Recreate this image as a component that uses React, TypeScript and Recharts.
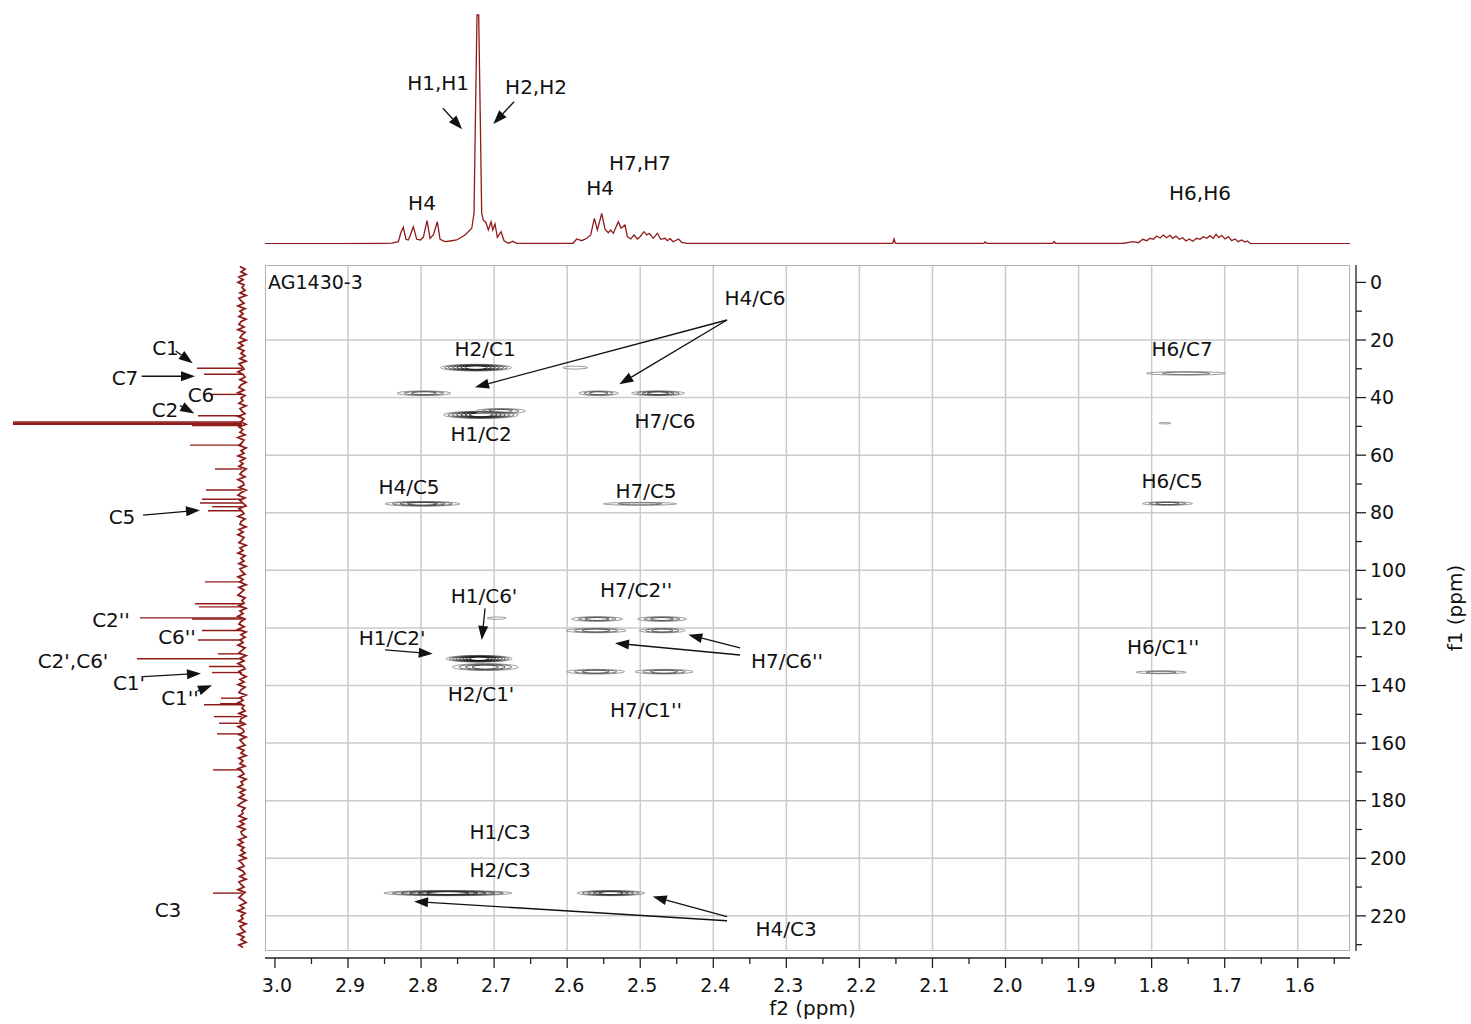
import React from "react";
import {
  CartesianGrid,
  ComposedChart,
  Line,
  ReferenceLine,
  Scatter,
  ScatterChart,
  XAxis,
  YAxis,
} from "recharts";

const FONT = "'DejaVu Sans', Verdana, sans-serif";
const TRACE = "#8f1b1b";
const INK = "#111";

// spectral window shown by the 2D frame
const F2_MIN = 1.5285;
const F2_MAX = 3.0136;
const F1_MIN = -6.04;
const F1_MAX = 232.2;

// ticks and grid
const F2_TICKS = [3.0, 2.95, 2.9, 2.85, 2.8, 2.75, 2.7, 2.65, 2.6, 2.55, 2.5, 2.45, 2.4, 2.35, 2.3, 2.25, 2.2, 2.15, 2.1, 2.05, 2.0, 1.95, 1.9, 1.85, 1.8, 1.75, 1.7, 1.65, 1.6, 1.55];
const F2_GRID = [2.9, 2.8, 2.7, 2.6, 2.5, 2.4, 2.3, 2.2, 2.1, 2.0, 1.9, 1.8, 1.7, 1.6];
const F1_TICKS = [0, 10, 20, 30, 40, 50, 60, 70, 80, 90, 100, 110, 120, 130, 140, 150, 160, 170, 180, 190, 200, 210, 220, 230];
const F1_GRID = [20, 40, 60, 80, 100, 120, 140, 160, 180, 200, 220];

// 1H projection (ppm, intensity)
const H1_TRACE: [number, number][] = [
  [3.0136, 0.4], [2.92, 0.4], [2.86, 0.5], [2.84, 0.8], [2.8311, 2.3], [2.8278, 11], [2.8243, 16.7], [2.8206, 4.7],
  [2.8175, 4], [2.8151, 8], [2.8106, 17.3], [2.8059, 4.7], [2.801, 4], [2.7969, 6.7], [2.7918, 23.3], [2.7877, 5.7],
  [2.7832, 9], [2.7777, 22.3], [2.774, 4.7], [2.7672, 2.3], [2.76, 3], [2.7512, 4], [2.7398, 9], [2.7306, 15.7],
  [2.7275, 30.7], [2.7252, 144], [2.7234, 229], [2.7211, 229], [2.7193, 144], [2.717, 30.7], [2.7148, 24],
  [2.7111, 21.3], [2.7079, 14], [2.7042, 22.3], [2.7019, 14], [2.6988, 20], [2.6956, 6.7], [2.6905, 12.3],
  [2.6864, 3.3], [2.6805, 0.7], [2.6745, 2.7], [2.669, 0.7], [2.62, 0.5], [2.592, 0.7],
  [2.5869, 5], [2.5801, 3.3], [2.5732, 5.7], [2.5678, 9], [2.5628, 25.7], [2.5587, 14], [2.5527, 30.7],
  [2.5482, 14.7], [2.5437, 11.3], [2.5404, 14], [2.5368, 10.7], [2.53, 22.3], [2.5263, 15.7], [2.5208, 19],
  [2.5177, 7.3], [2.513, 5], [2.5085, 9], [2.504, 5], [2.5003, 7.3], [2.4948, 12.3], [2.4911, 9], [2.4875, 10.7],
  [2.4821, 5.7], [2.4766, 10.7], [2.4719, 4.7], [2.466, 5.7], [2.4629, 3.3], [2.4592, 5.3], [2.4547, 2.3],
  [2.4478, 5], [2.4432, 1.7], [2.4364, 0.7], [2.35, 0.5], [2.16, 0.5], [2.1545, 0.6], [2.1526, 5], [2.1507, 0.6],
  [2.03, 0.5], [2.0279, 2], [2.0258, 0.5], [1.9355, 0.5], [1.9334, 2.5], [1.9313, 0.5], [1.84, 0.5],
  [1.825, 2.3], [1.8182, 1.3], [1.8122, 4.7], [1.8067, 3.3], [1.8022, 5.7], [1.7977, 4.7], [1.793, 8],
  [1.7885, 6], [1.784, 9], [1.7794, 6.3], [1.7748, 8.7], [1.7712, 5.7], [1.7667, 8], [1.7621, 4.7],
  [1.7575, 6.3], [1.753, 3], [1.7484, 5], [1.7438, 2.7], [1.7383, 5.7], [1.7338, 4.7], [1.7293, 7.3],
  [1.7246, 5.7], [1.7201, 8.3], [1.7156, 5.7], [1.7119, 9.7], [1.7078, 6.3], [1.7041, 8.7], [1.6996, 5],
  [1.695, 7.3], [1.6904, 3.3], [1.6858, 5], [1.6813, 2.3], [1.6767, 4], [1.6722, 2], [1.669, 3],
  [1.6644, 0.3], [1.6, 0.4], [1.5285, 0.4],
];

const H1_LABELS = [
  { text: "H1,H1", ppm: 2.7767, i: 161 },
  { text: "H2,H2", ppm: 2.6426, i: 157 },
  { text: "H4", ppm: 2.7987, i: 41 },
  { text: "H4", ppm: 2.555, i: 56 },
  { text: "H7,H7", ppm: 2.5003, i: 81 },
  { text: "H6,H6", ppm: 1.7338, i: 51 },
];
const H1_ARROWS = [
  [2.7701, 135.7, 2.7437, 114.7],
  [2.6727, 142.3, 2.7011, 120],
];

// 13C projection: peaks (ppm, height) and baseline noise
const C13_PEAKS: [number, number][] = [
  [29.8, 45], [31.9, 38], [38.9, 30], [46.3, 44], [48.5, 229], [48.9, 229], [49.3, 229], [49.7, 50],
  [56.5, 52], [64.8, 27], [72.1, 36], [75.3, 40], [76.6, 42], [77.9, 30], [79.3, 34], [104.0, 37],
  [111.6, 47], [112.7, 43], [116.5, 102], [116.9, 50], [120.9, 40], [124.2, 44], [129.0, 24], [130.7, 105],
  [133.4, 33], [135.5, 30], [144.4, 21], [146.3, 22], [146.7, 38], [150.8, 28], [153.1, 23], [156.8, 25],
  [169.3, 29], [212.1, 29],
];
const NOISE_START = -5.5;
const NOISE_STEP = 0.9131;
const C13_NOISE = [
  2, -3, 1, -4, 3, -1, 4, -2, 0, -3, 2, -4, 3, 1, -2, 4, -3, 2, -1, 3,
  -4, 1, 3, -2, 4, -3, 0, 2, -4, 3, -1, 4, -2, 1, -3, 2, -4, 3, 0, -2,
  4, -1, -3, 2, -4, 1, 3, -2, 4, -3, 1, -1, 3, -4, 2, 0, -3, 4, -2, 1,
  -4, 3, -1, 2, -3, 4, -2, 0, 3, -4, 1, -2, 4, -3, 2, -1, 3, -4, 0, 2,
  -3, 4, -1, -2, 3, -4, 1, 4, -3, 2, -1, -4, 3, 0, -2, 4, -3, 1, 2, -4,
  3, -1, 4, -2, 0, 3, -4, 2, -1, 4, -3, 1, -2, 3, -4, 2, 0, -3, 4, -1,
  2, -4, 3, -2, 1, 4, -3, 0, -2, 3, -4, 2, -1, 4, -3, 1, 3, -2, 4, -4,
  1, -3, 2, -1, 4, -3, 0, 3, -4, 2, -2, 4, -1, -3, 3, 1, -4, 2, -2, 4,
  -3, 1, 3, -4, 2, -1, 4, -2, 0, -3, 3, -4, 1, 2, -3, 4, -1, -2, 3, -4,
  2, 0, -3, 4, -2, 1, -4, 3, -1, 2, -3, 4, 0, -2, 3, -4, 1, -1, 4, -3,
  2, -2, 3, -4, 1, 4, -3, 0, -1, 3, -4, 2, -2, 4, -3, 1, 0, -4, 3, -1,
  4, -2, 1, -3, 2, -4, 3, 0, -2, 4, -1, -3, 2, -4, 3, 1, -2, 4, -3, 0,
  3, -1, -4, 2, -2, 4, -3, 1, -1, 3, -4, 2, 0, -3, 4, -2, 1, -4, 3, -1,
];
const C13_LABELS = [
  { text: "C1", v: 76.5, ppm: 22.8 },
  { text: "C7", v: 117, ppm: 33.2 },
  { text: "C6", v: 41, ppm: 39.1 },
  { text: "C2", v: 77, ppm: 44.3 },
  { text: "C5", v: 120, ppm: 81.5 },
  { text: "C2''", v: 131, ppm: 117.2 },
  { text: "C6''", v: 65, ppm: 123.1 },
  { text: "C2',C6'", v: 169, ppm: 131.5 },
  { text: "C1'", v: 113, ppm: 139.1 },
  { text: "C1''", v: 62, ppm: 144.3 },
  { text: "C3", v: 74, ppm: 217.9 },
];
const C13_ARROWS = [
  [66.3, 23.8, 49.3, 28.1],
  [100.3, 32.6, 47, 32.6],
  [62, 42.8, 47.7, 45.5],
  [99, 80.8, 42, 79.1],
  [98.7, 136.9, 41, 135.8],
  [44.7, 141.9, 30, 139.9],
];

// HMBC cross peaks: centre (f2, f1), half widths (ppm), contour levels
const CROSS_PEAKS = [
  { f2: 2.7247, f1: 29.6, hw: 0.0486, hh: 1.15, n: 7 },
  { f2: 2.589, f1: 29.6, hw: 0.0171, hh: 0.5, n: 1 },
  { f2: 2.796, f1: 38.5, hw: 0.037, hh: 0.8, n: 3 },
  { f2: 2.557, f1: 38.5, hw: 0.0274, hh: 0.8, n: 3 },
  { f2: 2.4756, f1: 38.5, hw: 0.0363, hh: 0.8, n: 4 },
  { f2: 2.718, f1: 46.0, hw: 0.0513, hh: 1.25, n: 7 },
  { f2: 2.691, f1: 44.7, hw: 0.0342, hh: 0.9, n: 3 },
  { f2: 1.7817, f1: 48.9, hw: 0.0082, hh: 0.25, n: 1 },
  { f2: 1.753, f1: 31.6, hw: 0.054, hh: 0.6, n: 2 },
  { f2: 2.798, f1: 76.9, hw: 0.0513, hh: 0.8, n: 4 },
  { f2: 2.5003, f1: 76.9, hw: 0.05, hh: 0.5, n: 2 },
  { f2: 1.7783, f1: 76.8, hw: 0.0342, hh: 0.6, n: 3 },
  { f2: 2.6964, f1: 116.6, hw: 0.013, hh: 0.4, n: 1 },
  { f2: 2.559, f1: 116.9, hw: 0.0349, hh: 0.8, n: 3 },
  { f2: 2.4702, f1: 116.9, hw: 0.0335, hh: 0.8, n: 3 },
  { f2: 2.5605, f1: 120.9, hw: 0.0411, hh: 0.8, n: 3 },
  { f2: 2.47, f1: 120.9, hw: 0.0315, hh: 0.8, n: 3 },
  { f2: 2.561, f1: 135.2, hw: 0.0397, hh: 0.8, n: 3 },
  { f2: 2.4674, f1: 135.2, hw: 0.0397, hh: 0.8, n: 3 },
  { f2: 2.7206, f1: 130.7, hw: 0.0452, hh: 1.15, n: 8 },
  { f2: 2.712, f1: 133.6, hw: 0.0452, hh: 1.2, n: 4 },
  { f2: 1.787, f1: 135.4, hw: 0.0342, hh: 0.5, n: 2 },
  { f2: 2.7633, f1: 212.1, hw: 0.0876, hh: 0.9, n: 6 },
  { f2: 2.5402, f1: 212.1, hw: 0.0465, hh: 0.9, n: 5 },
];

const MAIN_LABELS = [
  { text: "H4/C6", f2: 2.3429, f1: 5.4 },
  { text: "H2/C1", f2: 2.7124, f1: 23.1 },
  { text: "H1/C2", f2: 2.7179, f1: 52.6 },
  { text: "H7/C6", f2: 2.4661, f1: 48.1 },
  { text: "H4/C5", f2: 2.8165, f1: 71.0 },
  { text: "H7/C5", f2: 2.4921, f1: 72.4 },
  { text: "H6/C5", f2: 1.7721, f1: 69.0 },
  { text: "H6/C7", f2: 1.7584, f1: 23.1 },
  { text: "H1/C6'", f2: 2.7138, f1: 108.9 },
  { text: "H1/C2'", f2: 2.8397, f1: 123.5 },
  { text: "H2/C1'", f2: 2.7179, f1: 142.9 },
  { text: "H7/C2''", f2: 2.5057, f1: 106.8 },
  { text: "H7/C6''", f2: 2.2991, f1: 131.5 },
  { text: "H7/C1''", f2: 2.4921, f1: 148.5 },
  { text: "H6/C1''", f2: 1.7844, f1: 126.6 },
  { text: "H1/C3", f2: 2.6919, f1: 190.8 },
  { text: "H2/C3", f2: 2.6919, f1: 204.0 },
  { text: "H4/C3", f2: 2.3004, f1: 224.5 },
];
const SAMPLE_LABEL = [{ text: "AG1430-3", f2: 3.0094, f1: -0.1 }];
const MAIN_ARROWS = [
  [2.3812, 13.06, 2.7261, 36.4],
  [2.3812, 13.06, 2.5286, 35.4],
  [2.7124, 113.2, 2.7169, 124.2],
  [2.8493, 127.6, 2.784, 129.0],
  [2.3634, 126.9, 2.4342, 122.4],
  [2.3634, 129.4, 2.5345, 125.3],
  [2.3812, 220.3, 2.4829, 213.3],
  [2.3812, 221.7, 2.8096, 215.0],
];

// frame geometry (px)
const LEFT = 265;
const TOP = 265;
const PLOT_W = 1085;
const PLOT_H = 686;
const PX_F2 = PLOT_W / (F2_MAX - F2_MIN);
const PX_F1 = PLOT_H / (F1_MAX - F1_MIN);

const h1Data = H1_TRACE.map(([ppm, i]) => ({ ppm, i }));
const noiseData = C13_NOISE.map((v, k) => ({ ppm: NOISE_START + k * NOISE_STEP, v }));

const CONTOUR_GREYS = ["#9c9c9c", "#707070", "#555555", "#404040", "#303030", "#252525", "#1b1b1b", "#121212"];

function Contours(props: any) {
  const { cx, cy, payload } = props;
  const rx = payload.hw * PX_F2;
  const ry = payload.hh * PX_F1;
  const rings = [];
  for (let k = 0; k < payload.n; k++) {
    const t = k / payload.n;
    rings.push(
      <ellipse
        key={k}
        cx={cx}
        cy={cy}
        rx={rx * (1 - 0.8 * t)}
        ry={ry * (1 - 0.55 * t)}
        fill="none"
        stroke={CONTOUR_GREYS[Math.min(k, CONTOUR_GREYS.length - 1)]}
        strokeWidth={1}
      />
    );
  }
  return <g>{rings}</g>;
}

function TextMark(props: any) {
  const { cx, cy, payload } = props;
  return (
    <text x={cx} y={cy} dy="0.35em" textAnchor="middle" fontSize={20} fill={INK} fontFamily={FONT}>
      {payload.text}
    </text>
  );
}

function StartText(props: any) {
  const { cx, cy, payload } = props;
  return (
    <text x={cx} y={cy} dy="0.35em" textAnchor="start" fontSize={19} fill={INK} fontFamily={FONT}>
      {payload.text}
    </text>
  );
}

function Arrow(props: any) {
  const { x1, y1, x2, y2 } = props;
  const a = Math.atan2(y2 - y1, x2 - x1);
  const L = 14;
  const W = 5;
  const bx = x2 - L * Math.cos(a);
  const by = y2 - L * Math.sin(a);
  const pts = `${x2},${y2} ${bx - W * Math.sin(a)},${by + W * Math.cos(a)} ${bx + W * Math.sin(a)},${by - W * Math.cos(a)}`;
  return (
    <g>
      <line x1={x1} y1={y1} x2={bx} y2={by} stroke={INK} strokeWidth={1.3} />
      <polygon points={pts} fill={INK} />
    </g>
  );
}

function PeakLine(props: any) {
  const { x1, y1, x2, y2 } = props;
  return <line x1={x1} y1={y1} x2={x2} y2={y2} stroke={TRACE} strokeWidth={1.4} />;
}

function F2Tick(props: any) {
  const { x, y, payload } = props;
  const v = payload.value as number;
  const major = Math.round(v * 100) % 10 === 0;
  return (
    <g>
      <line x1={x} y1={y} x2={x} y2={y + (major ? 10 : 6)} stroke="#222" strokeWidth={1.3} />
      {major && (
        <text x={x + 2} y={y + 34} textAnchor="middle" fontSize={19} fill={INK} fontFamily={FONT}>
          {v.toFixed(1)}
        </text>
      )}
    </g>
  );
}

function F1Tick(props: any) {
  const { x, y, payload } = props;
  const v = payload.value as number;
  const major = v % 20 === 0;
  return (
    <g>
      <line x1={x} y1={y} x2={x + (major ? 10 : 6)} y2={y} stroke="#222" strokeWidth={1.3} />
      {major && (
        <text x={x + 14} y={y} dy="0.35em" textAnchor="start" fontSize={19} fill={INK} fontFamily={FONT}>
          {v}
        </text>
      )}
    </g>
  );
}

function F2Title(props: any) {
  const vb = props.viewBox;
  return (
    <text x={vb.x + vb.width / 2 + 5} y={vb.y + 57} textAnchor="middle" fontSize={20} fill={INK} fontFamily={FONT}>
      f2 (ppm)
    </text>
  );
}

function F1Title(props: any) {
  const vb = props.viewBox;
  const cx = vb.x + 99;
  const cy = vb.y + vb.height / 2;
  return (
    <text x={cx} y={cy} dy="0.35em" textAnchor="middle" fontSize={20} fill={INK} fontFamily={FONT} transform={`rotate(-90 ${cx} ${cy})`}>
      f1 (ppm)
    </text>
  );
}

export default function App() {
  return (
    <div style={{ position: "absolute", left: 0, top: 0, width: 1471, height: 1024, background: "#fff", fontFamily: FONT }}>
      {/* 2D HMBC */}
      <div style={{ position: "absolute", left: 0, top: 0 }}>
        <ScatterChart width={1471} height={1024} margin={{ top: TOP, right: 0, bottom: 0, left: LEFT }}>
          <CartesianGrid xAxisId="f2" yAxisId="f1" verticalValues={F2_GRID} horizontalValues={F1_GRID} stroke="#cbcbcb" strokeWidth={1.5} />
          <XAxis
            xAxisId="f2"
            type="number"
            dataKey="f2"
            domain={[F2_MIN, F2_MAX]}
            reversed
            allowDataOverflow
            ticks={F2_TICKS}
            interval={0}
            tick={(p: any) => <F2Tick {...p} />}
            tickLine={false}
            tickSize={0}
            tickMargin={0}
            height={66}
            axisLine={{ stroke: "#222", strokeWidth: 1.3 }}
            label={{ content: (p: any) => <F2Title {...p} /> }}
          />
          <XAxis xAxisId="agap" type="number" domain={[F2_MIN, F2_MAX]} reversed height={7} tick={false} axisLine={false} tickLine={false} />
          <YAxis
            yAxisId="f1"
            orientation="right"
            type="number"
            dataKey="f1"
            domain={[F1_MIN, F1_MAX]}
            reversed
            allowDataOverflow
            ticks={F1_TICKS}
            interval={0}
            tick={(p: any) => <F1Tick {...p} />}
            tickLine={false}
            tickSize={0}
            tickMargin={0}
            width={115}
            axisLine={{ stroke: "#222", strokeWidth: 1.3 }}
            label={{ content: (p: any) => <F1Title {...p} /> }}
          />
          <YAxis yAxisId="agap" orientation="right" type="number" domain={[F1_MIN, F1_MAX]} reversed width={6} tick={false} axisLine={false} tickLine={false} />
          <Scatter xAxisId="f2" yAxisId="f1" data={CROSS_PEAKS} shape={Contours} isAnimationActive={false} />
          <Scatter xAxisId="f2" yAxisId="f1" data={MAIN_LABELS} shape={TextMark} isAnimationActive={false} />
          <Scatter xAxisId="f2" yAxisId="f1" data={SAMPLE_LABEL} shape={StartText} isAnimationActive={false} />
          {MAIN_ARROWS.map(([a, b, c, d], k) => (
            <ReferenceLine
              key={`ma${k}`}
              xAxisId="f2"
              yAxisId="f1"
              segment={[{ x: a, y: b }, { x: c, y: d }]}
              shape={Arrow}
            />
          ))}
        </ScatterChart>
      </div>
      <div
        style={{
          position: "absolute",
          left: LEFT,
          top: TOP,
          width: PLOT_W,
          height: PLOT_H,
          border: "1px solid #b2b2b2",
          boxSizing: "border-box",
          pointerEvents: "none",
        }}
      />

      {/* 1H projection */}
      <div style={{ position: "absolute", left: 0, top: 0 }}>
        <ComposedChart width={1471} height={250} margin={{ top: 10, right: 121, bottom: 6, left: LEFT }}>
          <XAxis type="number" dataKey="ppm" domain={[F2_MIN, F2_MAX]} reversed allowDataOverflow hide />
          <YAxis type="number" dataKey="i" domain={[0, 234]} allowDataOverflow hide />
          <Line data={h1Data} dataKey="i" type="linear" stroke={TRACE} strokeWidth={1.3} dot={false} isAnimationActive={false} />
          <Scatter data={H1_LABELS} shape={TextMark} isAnimationActive={false} />
          {H1_ARROWS.map(([a, b, c, d], k) => (
            <ReferenceLine key={`ha${k}`} segment={[{ x: a, y: b }, { x: c, y: d }]} shape={Arrow} />
          ))}
        </ComposedChart>
      </div>

      {/* 13C projection */}
      <div style={{ position: "absolute", left: 0, top: 0 }}>
        <ScatterChart width={250} height={1024} margin={{ top: TOP, right: 0, bottom: 73, left: 0 }}>
          <XAxis type="number" dataKey="v" domain={[-8, 242]} reversed allowDataOverflow hide />
          <YAxis type="number" dataKey="ppm" domain={[F1_MIN, F1_MAX]} reversed allowDataOverflow hide />
          {C13_PEAKS.map(([ppm, h], k) => (
            <ReferenceLine key={`cp${k}`} segment={[{ x: 0, y: ppm }, { x: h, y: ppm }]} shape={PeakLine} />
          ))}
          <Scatter
            data={noiseData}
            line={{ stroke: TRACE, strokeWidth: 1.8 }}
            lineType="joint"
            shape={() => <g />}
            isAnimationActive={false}
          />
          <Scatter data={C13_LABELS} shape={TextMark} isAnimationActive={false} />
          {C13_ARROWS.map(([a, b, c, d], k) => (
            <ReferenceLine key={`ca${k}`} segment={[{ x: a, y: b }, { x: c, y: d }]} shape={Arrow} />
          ))}
        </ScatterChart>
      </div>
    </div>
  );
}
